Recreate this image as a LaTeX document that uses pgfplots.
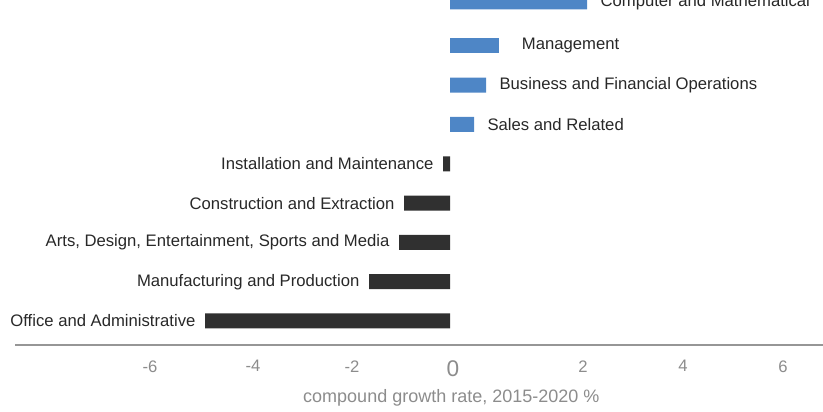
\documentclass[border=0pt]{standalone}
\usepackage{pgfplots}
\pgfplotsset{compat=1.18}
\usepackage{fontspec}
\setmainfont{Liberation Sans}
\definecolor{barblue}{RGB}{78,134,198}
\definecolor{bardark}{RGB}{48,48,48}
\definecolor{txt}{RGB}{40,40,40}
\definecolor{ticktxt}{RGB}{140,140,140}
\definecolor{axline}{RGB}{150,150,150}
\begin{document}
\begin{tikzpicture}
\begin{axis}[
  scale only axis,
  width=606pt, height=258.75pt,
  xmin=-8.7, xmax=7.46,
  ymin=-0.611, ymax=8.168,
  xbar, bar width=11.25pt, bar shift=0pt,
  axis x line*=bottom, axis y line=none,
  axis line style={axline, line width=0.8pt},
  xtick={-6,-3.94,-1.96,0.06,2.66,4.66,6.66},
  xticklabels={-6,-4,-2,{\fontsize{17}{19}\selectfont 0},2,4,6},
  major tick length=0pt,
  ytick=\empty,
  xticklabel style={font=\fontsize{12.5}{14}\selectfont, text=ticktxt, yshift=-8pt},
  /pgf/number format/assume math mode=true,
  xlabel={compound growth rate, 2015-2020 \%},
  xlabel style={at={(axis description cs:0.54,0)}, anchor=center, yshift=-40pt, font=\fontsize{13.5}{15}\selectfont, text=ticktxt},
  point meta=explicit symbolic,
  nodes near coords,
  every node near coord/.append style={font=\fontsize{12.5}{14}\selectfont, text=txt},
  clip=true,
]
\addplot[fill=bardark, draw=none, nodes near coords style={anchor=east, inner sep=0pt, xshift=-7pt}] coordinates {
  (-4.9,0) [Office and Administrative]
  (-1.62,1) [Manufacturing and Production]
  (-1.02,2) [{Arts, Design, Entertainment, Sports and Media}]
  (-0.92,3) [Construction and Extraction]
  (-0.14,4) [Installation and Maintenance]
};
\addplot[fill=barblue, draw=none, nodes near coords style={anchor=west, inner sep=0pt, xshift=10pt}] coordinates {
  (0.48,5) [Sales and Related]
  (0.72,6) [Business and Financial Operations]
  (2.74,8.12) [Computer and Mathematical]
};
\addplot[fill=barblue, draw=none, nodes near coords style={anchor=west, inner sep=0pt, xshift=17pt}] coordinates {
  (0.98,7) [Management]
};
\coordinate (BL) at (rel axis cs:0,0);
\coordinate (TR) at (rel axis cs:1,1);
\end{axis}
\pgfresetboundingbox
\path ([xshift=-11.25pt,yshift=-49.5pt]BL) rectangle (TR);
\end{tikzpicture}
\end{document}
